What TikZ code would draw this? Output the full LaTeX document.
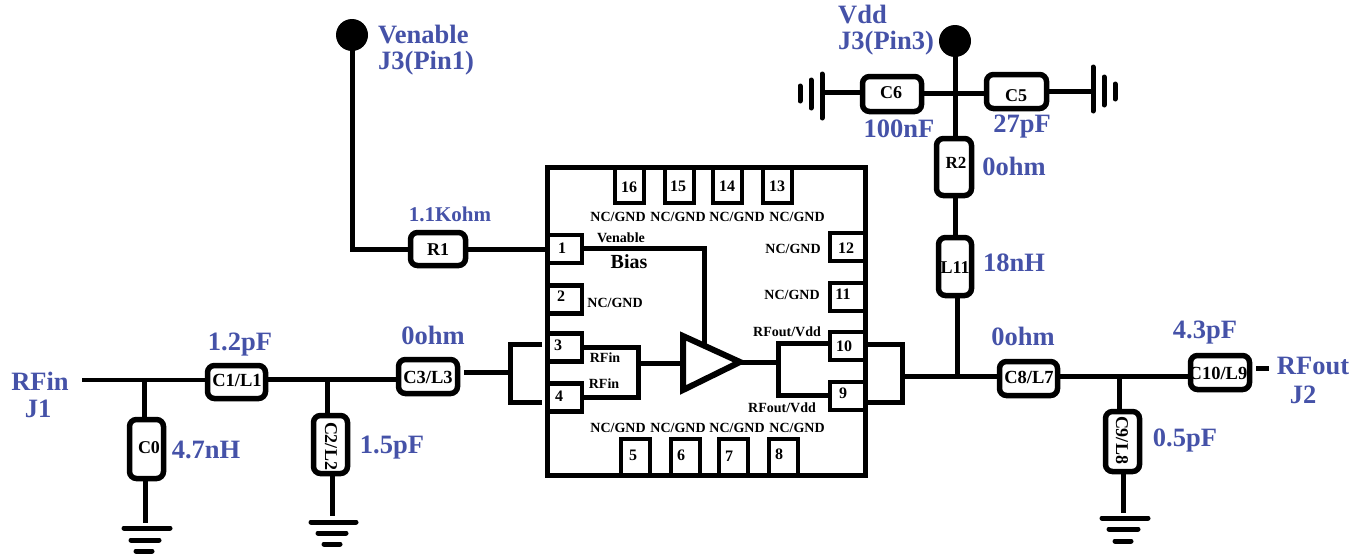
\documentclass[tikz,border=0pt]{standalone}
\usepackage{fontspec}
\setmainfont{Liberation Serif}
\definecolor{lab}{HTML}{4552A8}
\newcommand{\fsz}[1]{\fontsize{#1}{#1}\selectfont\bfseries}
\tikzset{
  wire/.style={line width=5pt,line cap=butt,line join=miter},
  part/.style={draw,line width=5.5pt,rounded corners=7pt,outer sep=0pt,inner sep=0pt},
  hpart/.style={part,minimum width=59pt,minimum height=34pt,font=\fsz{18.5}},
  vpart/.style={part,minimum width=34pt,minimum height=59pt,font=\fsz{18}},
  pinbox/.style={draw,line width=4.7pt,outer sep=0pt,inner sep=0pt,minimum width=#1,minimum height=28pt},
  pinbox/.default=29pt,
  pinv/.style={pinbox=29pt,minimum height=36pt},
  pinh/.style={pinbox=35pt},
  pinnum/.style={inner sep=0pt,font=\fsz{16}},
  small/.style={inner sep=0pt,font=\fsz{14}},
  value/.style={inner sep=0pt,text=lab,font=\fsz{26.5}},
  dot/.style={circle,fill=black,inner sep=0pt,minimum size=32pt,outer sep=0pt},
  gnd/.style={line width=5pt,line cap=round},
}
\begin{document}
\begin{tikzpicture}[x=1pt,y=-1pt]
\useasboundingbox (0,0) rectangle (1364,554);
% chip
\node[draw,line width=5pt,outer sep=0pt,minimum width=318pt,minimum height=308pt] (chip) at (706,321) {};
% top pins
\node[pinv] (p16) at (629.5,185) {};
\node[pinv] (p15) at (679.5,185) {};
\node[pinv] (p14) at (727.5,185) {};
\node[pinv] (p13) at (777.5,185) {};
% bottom pins
\node[pinv] (p5) at (635.5,457) {};
\node[pinv] (p6) at (685.5,457) {};
\node[pinv] (p7) at (733.5,457) {};
\node[pinv] (p8) at (783.5,457) {};
% left pins
\node[pinh] (p1) at (564.5,249) {};
\node[pinh] (p2) at (564.5,299.5) {};
\node[pinh] (p3) at (564.5,347.5) {};
\node[pinh] (p4) at (564.5,397.5) {};
% right pins
\node[pinh] (p12) at (847.5,247) {};
\node[pinh] (p11) at (847.5,297) {};
\node[pinh] (p10) at (847.5,346) {};
\node[pinh] (p9) at (847.5,396) {};
% pin numbers
\node[pinnum] (n16) at (629,187) {16};
\node[pinnum] (n15) at (678,186) {15};
\node[pinnum] (n14) at (727,186) {14};
\node[pinnum] (n13) at (777,186) {13};
\node[pinnum] (n5) at (633,455) {5};
\node[pinnum] (n6) at (681,455) {6};
\node[pinnum] (n7) at (729,456) {7};
\node[pinnum] (n8) at (779,454) {8};
\node[pinnum] (n1) at (562,248) {1};
\node[pinnum] (n2) at (561,296) {2};
\node[pinnum] (n3) at (558,345) {3};
\node[pinnum] (n4) at (559,396) {4};
\node[pinnum] (n12) at (846,248) {12};
\node[pinnum] (n11) at (843,294) {11};
\node[pinnum] (n10) at (844,346) {10};
\node[pinnum] (n9) at (843,393) {9};
% chip texts
\node[small] (g1) at (618,217) {NC/GND};
\node[small] (g2) at (678,217) {NC/GND};
\node[small] (g3) at (737,217) {NC/GND};
\node[small] (g4) at (797,217) {NC/GND};
\node[small] (g5) at (618,428) {NC/GND};
\node[small] (g6) at (678,428) {NC/GND};
\node[small] (g7) at (737,428) {NC/GND};
\node[small] (g8) at (797,428) {NC/GND};
\node[small] (g9) at (615,303) {NC/GND};
\node[small] (g10) at (793,249) {NC/GND};
\node[small] (g11) at (792,295) {NC/GND};
\node[small] (ven) at (621,238) {Venable};
\node[inner sep=0pt,font=\fsz{20}] (bias) at (629,262) {Bias};
\node[small] (rfa) at (605,358) {RFin};
\node[small] (rfb) at (604,384) {RFin};
\node[small] (rfc) at (787,332) {RFout/Vdd};
\node[small] (rfd) at (782,408) {RFout/Vdd};
% amplifier
\coordinate (ta) at (683,336);
\coordinate (tb) at (740,362);
\coordinate (tc) at (683,390);
\coordinate (ti) at (683,363);
\coordinate (bias1) at (704,248);
\coordinate (bias2) at (704,346);
\draw[wire] (p1.east |- bias1) -- (bias1) -- (bias2);
\draw[wire,line width=6pt] (ta) -- (tb) -- (tc) -- cycle;
% inner bracket in
\coordinate (ib1) at (638,347);
\coordinate (ib2) at (638,397);
\draw[wire] (p3.east |- ib1) -- (ib1) -- (ib2) -- (p4.east |- ib2);
\draw[wire] (ib1 |- ti) -- (ti);
% inner bracket out
\coordinate (ob1) at (778,343);
\coordinate (ob2) at (778,395);
\draw[wire] (p10.west |- ob1) -- (ob1) -- (ob2) -- (p9.west |- ob2);
\draw[wire] (tb) -- (ob1 |- tb);
% outer brackets
\coordinate (ela) at (542,344);
\coordinate (elb) at (510,344);
\coordinate (elc) at (510,402);
\coordinate (eld) at (542,402);
\draw[wire] (ela) -- (elb) -- (elc) -- (eld);
\coordinate (era) at (865,344);
\coordinate (erb) at (902,344);
\coordinate (erc) at (902,402);
\coordinate (erd) at (865,402);
\draw[wire] (era) -- (erb) -- (erc) -- (erd);
% passive parts
\node[hpart,minimum width=55pt,minimum height=33pt] (r1) at (438,249) {};
\node[inner sep=0pt,font=\fsz{18}] (r1t) at (438,250) {R1};
\node[hpart,minimum width=58pt,minimum height=33pt] (c1) at (236.5,382) {};
\node[inner sep=0pt,font=\fsz{18.5}] (c1t) at (237,380) {C1/L1};
\node[vpart] (c0) at (146.5,449) {};
\node[inner sep=0pt,font=\fsz{18}] (c0t) at (149,448) {C0};
\node[vpart,minimum height=58pt] (c2) at (330.5,444.5) {};
\node[inner sep=0pt,font=\fsz{18},rotate=-90] (c2t) at (331,446) {C2/L2};
\node[hpart] (c3) at (428,376.5) {};
\node[inner sep=0pt,font=\fsz{18.5}] (c3t) at (428,377) {C3/L3};
\node[hpart,minimum width=58pt] (c8) at (1028.5,378.5) {};
\node[inner sep=0pt,font=\fsz{18.5}] (c8t) at (1029,377) {C8/L7};
\node[inner sep=0pt,font=\fsz{18.5}] (c10t) at (1218,373) {C10/L9};
\node[hpart] (c10) at (1220,372.5) {};
\node[vpart,minimum height=60pt] (c9) at (1122.5,441.5) {};
\node[inner sep=0pt,font=\fsz{18},rotate=-90] (c9t) at (1122,440) {C9/L8};
\node[hpart,minimum height=35pt] (c6) at (892,94) {};
\node[inner sep=0pt,font=\fsz{18}] (c6t) at (891,93) {C6};
\node[hpart,minimum width=60pt] (c5) at (1016.5,91.5) {};
\node[inner sep=0pt,font=\fsz{18}] (c5t) at (1016,96) {C5};
\node[vpart,minimum width=35pt,minimum height=57pt] (r2) at (954,167) {};
\node[inner sep=0pt,font=\fsz{17}] (r2t) at (956,163) {R2};
\node[vpart,minimum width=33pt,minimum height=58pt] (l11) at (955,266.5) {};
\node[inner sep=0pt,font=\fsz{18}] (l11t) at (955,268) {L11};
% terminals
\node[dot] (ven1) at (352,35) {};
\node[dot] (vdd1) at (955,41) {};
% left chain
\coordinate (rfin) at (82,380);
\coordinate (j0) at (144,380);
\coordinate (j2) at (327,379);
\coordinate (lin) at (464,372);
\coordinate (gl) at (510,372);
\draw[wire,line width=4.5pt] (rfin) -- (c1.west |- rfin);
\draw[wire] (j0) -- (j0 |- c0.north);
\draw[wire] (c1.east |- j2) -- (c3.west |- j2);
\draw[wire] (j2) -- (j2 |- c2.north);
\draw[wire] (lin) -- (gl);
% grounds
\coordinate (g0) at (145,523);
\draw[wire] (g0 |- c0.south) -- (g0);
\draw[gnd] (124,528) -- (170,528) (131,540) -- (159,540) (136,551) -- (152,551);
\coordinate (g2c) at (332,516);
\draw[wire] (g2c |- c2.south) -- (g2c);
\draw[gnd] (311,522) -- (356,522) (318,533) -- (346,533) (324,544) -- (340,544);
\coordinate (g9c) at (1123,513);
\draw[wire] (g9c |- c9.south) -- (g9c);
\draw[gnd] (1102,518) -- (1148,518) (1109,529) -- (1138,529) (1115,541) -- (1131,541);
% right chain
\coordinate (rw) at (902,376);
\coordinate (j9) at (1119,376);
\coordinate (jl) at (957,376);
\draw[wire] (rw) -- (c8.west |- rw);
\draw[wire] (c8.east |- j9) -- (c10.west |- j9);
\draw[wire] (j9) -- (j9 |- c9.north);
\coordinate (sa) at (1256,368);
\coordinate (sb) at (1269,368);
\draw[wire] (sa) -- (sb);
% Venable
\draw[wire] (ven1.center) |- (r1.west);
\draw[wire] (r1.east) -- (p1.west);
% Vdd
\coordinate (vy) at (954,93);
\draw[wire] (vdd1.center) -- (vdd1.center |- r2.north);
\draw[wire] (c6.east |- vy) -- (c5.west |- vy);
\draw[wire] (r2.south) -- (r2.south -| l11.north) -- (l11.north);
\draw[wire] (jl |- l11.south) -- (jl);
\coordinate (gla) at (822,92);
\coordinate (gra) at (1093,91);
\draw[wire] (c6.west |- gla) -- (gla);
\draw[wire] (c5.east |- gra) -- (gra);
\draw[gnd] (822,74) -- (822,118) (811,80) -- (811,108) (800,86) -- (800,101);
\draw[gnd] (1093,67) -- (1093,111) (1104,77) -- (1104,105) (1115,84) -- (1115,99);
% values
\node[value,anchor=west] (v1) at (378,35) {Venable};
\node[value,anchor=west] (v2) at (378,63) {J3(Pin1)};
\node[value,anchor=west] (v3) at (838,15) {Vdd};
\node[value,anchor=west] (v4) at (838,43) {J3(Pin3)};
\node[value] (v5) at (899,129) {100nF};
\node[value] (v6) at (1022,127) {27pF};
\node[value] (v7) at (1014,166) {0ohm};
\node[value] (v8) at (1014,263) {18nH};
\node[value,font=\fsz{21}] (v9) at (450,214) {1.1Kohm};
\node[value] (v10) at (40,381) {RFin};
\node[value] (v11) at (38,409) {J1};
\node[value] (v12) at (240,345) {1.2pF};
\node[value] (v13) at (433,335) {0ohm};
\node[value] (v14) at (206,450) {4.7nH};
\node[value] (v15) at (392,448) {1.5pF};
\node[value] (v16) at (1023,336) {0ohm};
\node[value] (v17) at (1205,333) {4.3pF};
\node[value] (v18) at (1313,366) {RFout};
\node[value] (v19) at (1303,395) {J2};
\node[value] (v20) at (1185,441) {0.5pF};
\end{tikzpicture}
\end{document}
